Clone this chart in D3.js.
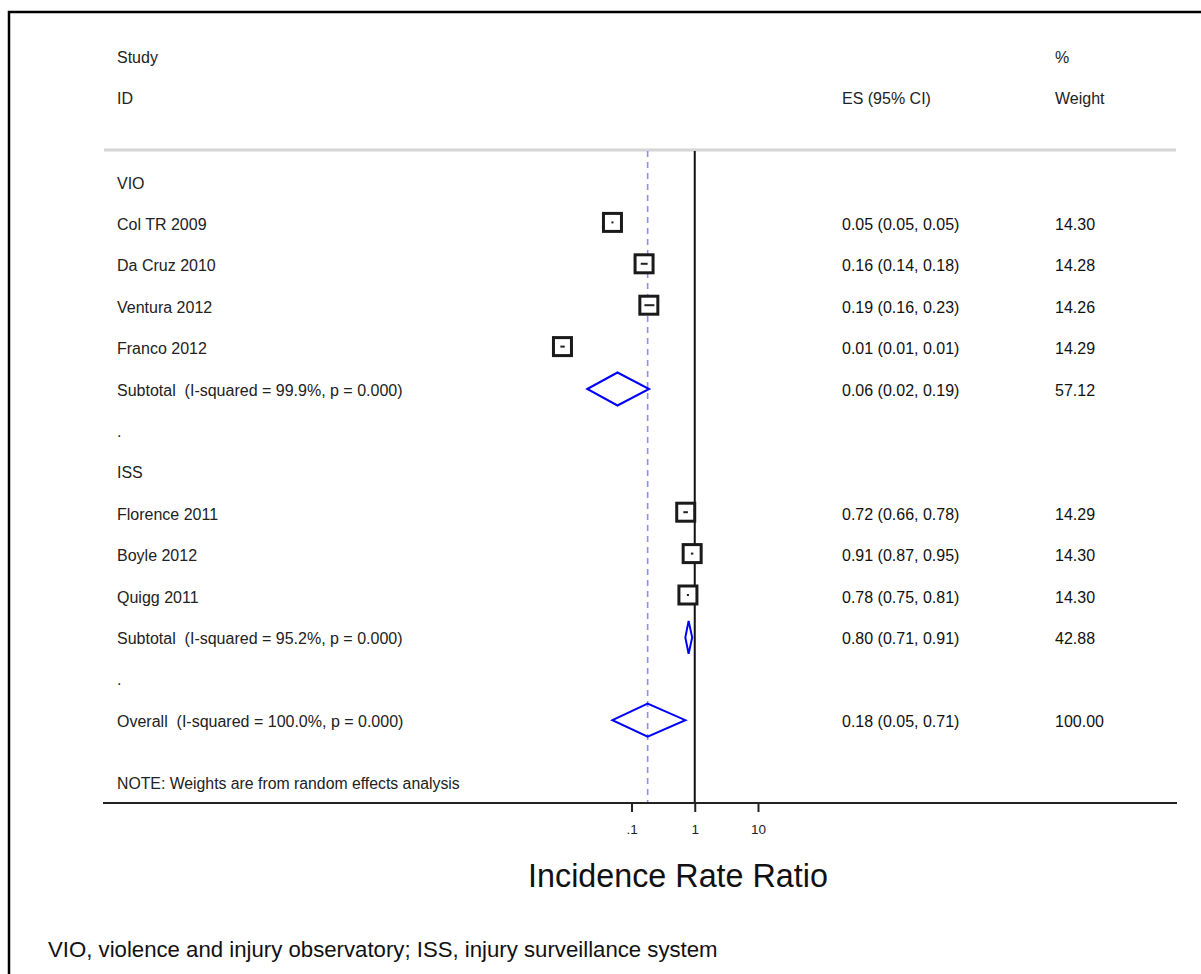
<!DOCTYPE html>
<html>
<head>
<meta charset="utf-8">
<script src="https://cdn.jsdelivr.net/npm/d3@7"></script>
<style>
  body { margin: 0; background: white; }
  svg text { font-family: "Liberation Sans", Arial, Helvetica, sans-serif; white-space: pre; }
</style>
</head>
<body>
<div id="container"></div>
<script>
/* CONSTANTS AND GLOBALS */
const width = 1201,
  height = 974;

/* DATA */
// VIO group
const vioStudies = ["Col TR 2009", "Da Cruz 2010", "Ventura 2012", "Franco 2012"];
const vioES = [0.05, 0.158, 0.188, 0.0081];
const vioLo = [0.049, 0.14, 0.16, 0.0075];
const vioHi = [0.051, 0.18, 0.23, 0.0088];
const vioWeight = [14.30, 14.28, 14.26, 14.29];
const vioSubtotal = { es: 0.06, lo: 0.02, hi: 0.19, weight: 57.12, i2: "99.9%", p: "0.000" };

// ISS group
const issStudies = ["Florence 2011", "Boyle 2012", "Quigg 2011"];
const issES = [0.72, 0.91, 0.78];
const issLo = [0.66, 0.87, 0.75];
const issHi = [0.78, 0.95, 0.81];
const issWeight = [14.29, 14.30, 14.30];
const issSubtotal = { es: 0.80, lo: 0.71, hi: 0.91, weight: 42.88, i2: "95.2%", p: "0.000" };

const overall = { es: 0.18, lo: 0.05, hi: 0.71, weight: 100.00, i2: "100.0%", p: "0.000" };

const tickValues = [0.1, 1, 10];
const tickLabels = [".1", "1", "10"];

// build the row list
const rows = [];
rows.push({ type: "group", label: "VIO" });
vioStudies.forEach((s, i) => rows.push({ type: "study", label: s, es: vioES[i], lo: vioLo[i], hi: vioHi[i], weight: vioWeight[i] }));
rows.push({ type: "sub", label: `Subtotal  (I-squared = ${vioSubtotal.i2}, p = ${vioSubtotal.p})`, ...vioSubtotal });
rows.push({ type: "dot", label: "." });
rows.push({ type: "group", label: "ISS" });
issStudies.forEach((s, i) => rows.push({ type: "study", label: s, es: issES[i], lo: issLo[i], hi: issHi[i], weight: issWeight[i] }));
rows.push({ type: "sub", label: `Subtotal  (I-squared = ${issSubtotal.i2}, p = ${issSubtotal.p})`, ...issSubtotal });
rows.push({ type: "dot", label: "." });
rows.push({ type: "sub", label: `Overall  (I-squared = ${overall.i2}, p = ${overall.p})`, ...overall });
rows.forEach((d, i) => d.idx = i);

const f2 = d3.format(".2f");
const fs = 16;

// SCALES
const xScale = d3.scaleLog()
  .domain([0.1, 10])
  .range([631.5, 758]);

const yScale = d3.scalePoint()
  .domain(rows.map(d => d.idx))
  .range([183, 721.2]);

// CREATE SVG ELEMENT
const svg = d3.select("#container")
  .append("svg")
  .attr("width", width)
  .attr("height", height)
  .style("background-color", "white");

// frame
svg.append("path")
  .attr("d", `M9,${height} V12 H${width}`)
  .attr("fill", "none")
  .attr("stroke", "black")
  .attr("stroke-width", 2.5);

// HEADER
const header = svg.append("g")
  .attr("font-size", fs)
  .attr("fill", "#222");
header.append("text").attr("x", 117).attr("y", 63).text("Study");
header.append("text").attr("x", 117).attr("y", 104).text("ID");
header.append("text").attr("x", 842).attr("y", 104).text("ES (95% CI)");
header.append("text").attr("x", 1055).attr("y", 63).text("%");
header.append("text").attr("x", 1055).attr("y", 104).text("Weight");

svg.append("line")
  .attr("x1", 104).attr("x2", 1176)
  .attr("y1", 150).attr("y2", 150)
  .attr("stroke", "#d4d4d4")
  .attr("stroke-width", 3);

// REFERENCE LINES
svg.append("line")
  .attr("x1", xScale(overall.es)).attr("x2", xScale(overall.es))
  .attr("y1", 151).attr("y2", 802)
  .attr("stroke", "#8c8cff")
  .attr("stroke-width", 1.6)
  .attr("stroke-dasharray", "6,5");

svg.append("line")
  .attr("x1", xScale(1)).attr("x2", xScale(1))
  .attr("y1", 151).attr("y2", 803)
  .attr("stroke", "#111")
  .attr("stroke-width", 2);

// ROW LABELS
svg.append("g")
  .attr("font-size", fs)
  .attr("fill", "#222")
  .selectAll("text")
  .data(rows)
  .join("text")
  .attr("x", 117)
  .attr("y", d => yScale(d.idx) + 5.5)
  .text(d => d.label);

// ES AND WEIGHT COLUMNS
const valued = rows.filter(d => d.es !== undefined);

svg.append("g")
  .attr("font-size", fs)
  .attr("fill", "#111")
  .selectAll("text")
  .data(valued)
  .join("text")
  .attr("x", 842)
  .attr("y", d => yScale(d.idx) + 5.5)
  .text(d => `${f2(d.es)} (${f2(d.lo)}, ${f2(d.hi)})`);

svg.append("g")
  .attr("font-size", fs)
  .attr("fill", "#111")
  .selectAll("text")
  .data(valued)
  .join("text")
  .attr("x", 1055)
  .attr("y", d => yScale(d.idx) + 5.5)
  .text(d => f2(d.weight));

// STUDY BOXES
const studies = rows.filter(d => d.type === "study");
const box = 18;

svg.selectAll(".box")
  .data(studies)
  .join("rect")
  .attr("class", "box")
  .attr("x", d => xScale(d.es) - box / 2)
  .attr("y", d => yScale(d.idx) - 2 - box / 2)
  .attr("width", box)
  .attr("height", box)
  .attr("fill", "white")
  .attr("stroke", "#1a1a1a")
  .attr("stroke-width", 3);

svg.selectAll(".ci")
  .data(studies)
  .join("line")
  .attr("class", "ci")
  .attr("x1", d => Math.min(xScale(d.lo), xScale(d.es) - 1))
  .attr("x2", d => Math.max(xScale(d.hi), xScale(d.es) + 1))
  .attr("y1", d => yScale(d.idx) - 2)
  .attr("y2", d => yScale(d.idx) - 2)
  .attr("stroke", "#222")
  .attr("stroke-width", 2);

// DIAMONDS
const subs = rows.filter(d => d.type === "sub");
svg.selectAll(".diamond")
  .data(subs)
  .join("path")
  .attr("class", "diamond")
  .attr("fill", "none")
  .attr("stroke", "#0000ff")
  .attr("stroke-width", 2)
  .attr("d", d => {
    const y = yScale(d.idx) - 1, h = 16.5;
    return `M${xScale(d.lo)},${y} L${xScale(d.es)},${y - h} L${xScale(d.hi)},${y} L${xScale(d.es)},${y + h} Z`;
  });

// NOTE
svg.append("text")
  .attr("x", 117)
  .attr("y", 789)
  .attr("font-size", 15.8)
  .attr("fill", "#222")
  .text("NOTE: Weights are from random effects analysis");

// BUILD AND CALL AXIS
svg.append("line")
  .attr("x1", 103).attr("x2", 1177)
  .attr("y1", 803).attr("y2", 803)
  .attr("stroke", "#222")
  .attr("stroke-width", 2);

const xAxis = d3.axisBottom(xScale)
  .tickValues(tickValues)
  .tickFormat((d, i) => tickLabels[i])
  .tickSize(9)
  .tickPadding(12);

const axisG = svg.append("g")
  .attr("transform", `translate(0, 803)`)
  .call(xAxis);

axisG.select(".domain").remove();
axisG.selectAll(".tick line").attr("stroke", "#222").attr("stroke-width", 2);
axisG.selectAll(".tick text")
  .attr("font-size", 13.5)
  .attr("fill", "#222")
  .style("font-family", "'Liberation Sans', Arial, sans-serif");

svg.append("text")
  .attr("x", 678)
  .attr("y", 887)
  .attr("text-anchor", "middle")
  .attr("font-size", 32.3)
  .attr("fill", "#111")
  .text("Incidence Rate Ratio");

// FOOTNOTE
svg.append("text")
  .attr("x", 48)
  .attr("y", 957)
  .attr("font-size", 22.2)
  .attr("fill", "#111")
  .text("VIO, violence and injury observatory; ISS, injury surveillance system");
</script>
</body>
</html>
